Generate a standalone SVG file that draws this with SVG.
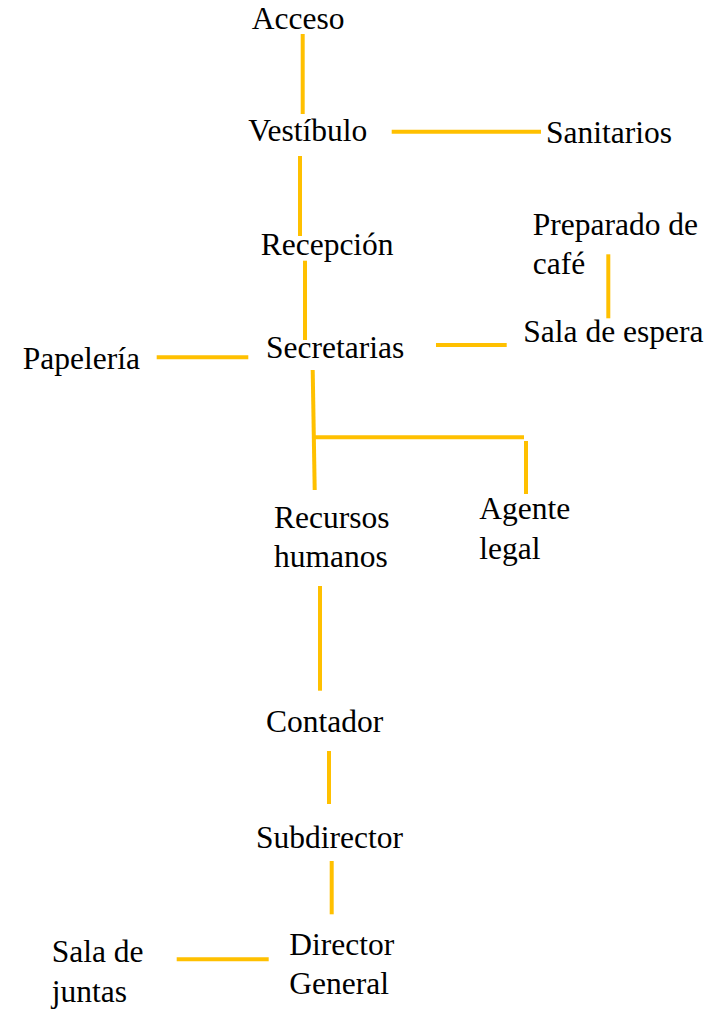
<svg xmlns="http://www.w3.org/2000/svg" width="719" height="1010" viewBox="0 0 719 1010">
<style>
text{font-family:'Liberation Serif','Times New Roman',Times,'DejaVu Serif',serif;font-size:31.5px;fill:#000}
.c line{stroke:#FFC000;stroke-width:4;fill:none}
</style>
<rect width="719" height="1010" fill="#fff"/>
<g class="c" id="connectors">
<line x1="302.7" y1="34" x2="302.7" y2="114"/>
<line x1="391.7" y1="131.7" x2="541" y2="131.7"/>
<line x1="300" y1="156" x2="300" y2="236"/>
<line x1="305" y1="260.7" x2="305" y2="340"/>
<line x1="608.3" y1="254.3" x2="608.3" y2="318.3"/>
<line x1="436" y1="345" x2="506.7" y2="345"/>
<line x1="156.7" y1="357.3" x2="248.3" y2="357.3"/>
<line x1="312.7" y1="370" x2="314.7" y2="490"/>
<line x1="313.5" y1="437.3" x2="524" y2="437.3"/>
<line x1="526" y1="441" x2="526" y2="494"/>
<line x1="320" y1="586" x2="320" y2="690.7"/>
<line x1="329" y1="751" x2="329" y2="804"/>
<line x1="331.7" y1="861" x2="331.7" y2="914.3"/>
<line x1="176.7" y1="959.3" x2="268.7" y2="959.3"/>
</g>
<g id="acceso"><text x="251.7" y="29.3" font-family="Liberation Serif">Acceso</text></g>
<g id="vestibulo"><text x="248.3" y="140.7">Vestíbulo</text></g>
<g id="sanitarios"><text x="546" y="142.7">Sanitarios</text></g>
<g id="cafe"><text x="532.7" y="235">Preparado de</text><text x="532.7" y="274">café</text></g>
<g id="recepcion"><text x="260.7" y="255">Recepción</text></g>
<g id="espera"><text x="523.3" y="342.3">Sala de espera</text></g>
<g id="secretarias"><text x="266" y="358.3">Secretarias</text></g>
<g id="papeleria"><text x="22.7" y="369.3">Papelería</text></g>
<g id="rh"><text x="274" y="527.5">Recursos</text><text x="274" y="566.5">humanos</text></g>
<g id="agente"><text x="479.3" y="519.3">Agente</text><text x="479.3" y="559.3">legal</text></g>
<g id="contador"><text x="266" y="732.3">Contador</text></g>
<g id="subdirector"><text x="256" y="847.7">Subdirector</text></g>
<g id="director"><text x="289.3" y="955">Director</text><text x="289.3" y="994.3">General</text></g>
<g id="juntas"><text x="51.7" y="961.7">Sala de</text><text x="51.7" y="1001.7">juntas</text></g>
</svg>
